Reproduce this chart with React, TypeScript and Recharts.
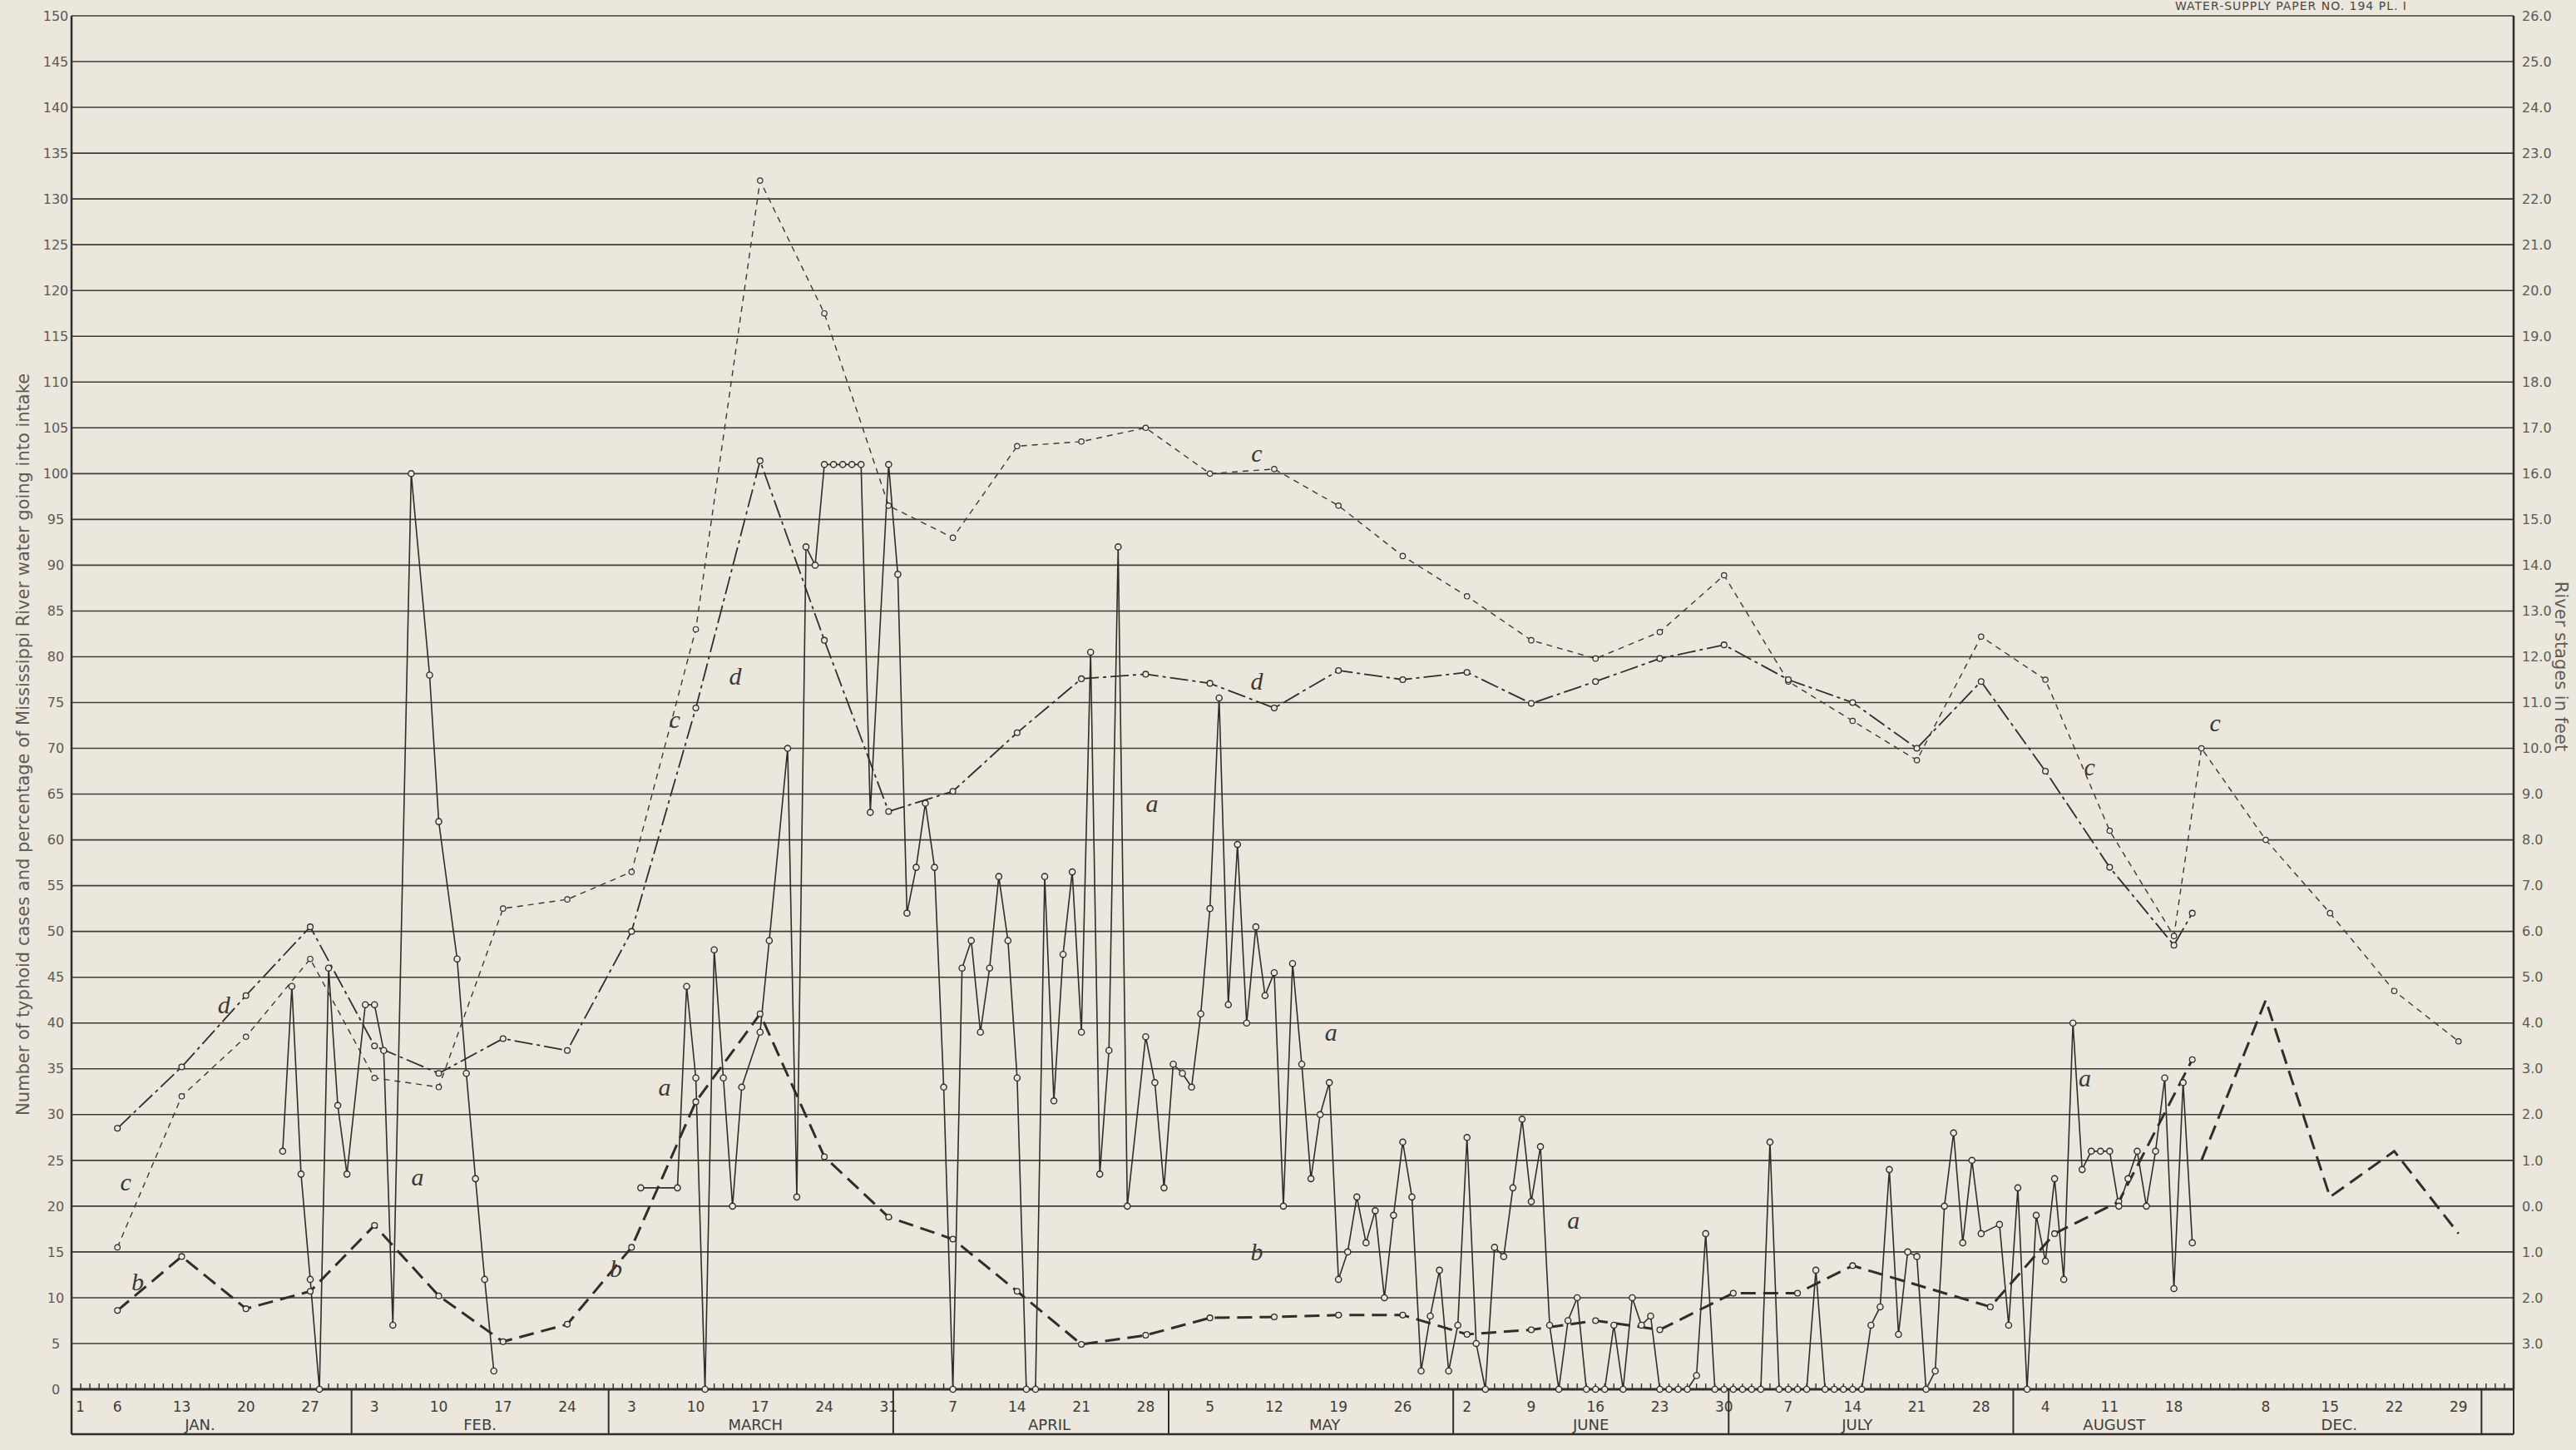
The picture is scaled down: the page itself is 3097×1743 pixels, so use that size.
import React from 'react';
import { ComposedChart, Line, XAxis, YAxis, CartesianGrid, Scatter, ReferenceDot } from 'recharts';

// day index: Jan 1 = 1 ... Aug 20 = 232, December is drawn right after August (Dec d = 232 + d)
const dayTickPos = [1, 6, 13, 20, 27, 34, 41, 48, 55, 62, 69, 76, 83, 90, 97, 104, 111, 118, 125, 132, 139, 146, 153, 160, 167, 174, 181, 188, 195, 202, 209, 216, 223, 230, 240, 247, 254, 261];
const dayTickLabels = ['1', '6', '13', '20', '27', '3', '10', '17', '24', '3', '10', '17', '24', '31', '7', '14', '21', '28', '5', '12', '19', '26', '2', '9', '16', '23', '30', '7', '14', '21', '28', '4', '11', '18', '8', '15', '22', '29'];
const monthNames = ['JAN.', 'FEB.', 'MARCH', 'APRIL', 'MAY', 'JUNE', 'JULY', 'AUGUST', 'DEC.'];
const monthCenters = [15, 45.5, 75.5, 107.5, 137.5, 166.5, 195.5, 223.5, 248];
const monthBreaks = [31.5, 59.5, 90.5, 120.5, 151.5, 181.5, 212.5, 263.5, 267];
const gridDays = [6, 13, 20, 27, 34, 41, 48, 55, 62, 69, 76, 83, 90, 97, 104, 111, 118, 125, 132, 139, 146, 153, 160, 167, 174, 181, 188, 195, 202, 209, 216, 223, 230, 233, 240, 247, 254, 261];
const leftTicks = [0, 5, 10, 15, 20, 25, 30, 35, 40, 45, 50, 55, 60, 65, 70, 75, 80, 85, 90, 95, 100, 105, 110, 115, 120, 125, 130, 135, 140, 145, 150];
const rightTicks = [5, 10, 15, 20, 25, 30, 35, 40, 45, 50, 55, 60, 65, 70, 75, 80, 85, 90, 95, 100, 105, 110, 115, 120, 125, 130, 135, 140, 145, 150];
const dailyMarks = Array.from({ length: 266 }, (_, i) => ({ day: i + 1, v: 0 }));

// a: daily typhoid cases
const aEarlyDays = [24, 25, 26, 27, 28, 29, 30, 31, 33, 34, 35, 36, 38, 40, 41, 43, 44, 45, 46, 47];
const aEarlyValues = [26, 44, 23.5, 12, 0, 46, 31, 23.5, 42, 42, 37, 7, 100, 78, 62, 47, 34.5, 23, 12, 2];
const aDays = [63, 67, 68, 69, 70, 71, 72, 73, 74, 76, 77, 79, 80, 81, 82, 83, 84, 85, 86, 87, 88, 90, 91, 92, 93, 94, 95, 96, 97, 98, 99, 100, 101, 102, 103, 104, 105, 106, 107, 108, 109, 110, 111, 112, 113, 114, 115, 116, 118, 119, 120, 121, 122, 123, 124, 125, 126, 127, 128, 129, 130, 131, 132, 133, 134, 135, 136, 137, 138, 139, 140, 141, 142, 143, 144, 145, 146, 147, 148, 149, 150, 151, 152, 153, 154, 155, 156, 157, 158, 159, 160, 161, 162, 163, 164, 165, 166, 167, 168, 169, 170, 171, 172, 173, 174, 175, 176, 177, 178, 179, 180, 181, 182, 183, 184, 185, 186, 187, 188, 189, 190, 191, 192, 193, 194, 195, 196, 197, 198, 199, 200, 201, 202, 203, 204, 205, 206, 207, 208, 209, 211, 212, 213, 214, 215, 216, 217, 218, 219, 220, 221, 222, 223, 224, 225, 226, 227, 228, 229, 230, 231, 232];
const aValues = [22, 22, 44, 34, 0, 48, 34, 20, 33, 39, 49, 70, 21, 92, 90, 101, 101, 101, 101, 101, 63, 101, 89, 52, 57, 64, 57, 33, 0, 46, 49, 39, 46, 56, 49, 34, 0, 0, 56, 31.5, 47.5, 56.5, 39, 80.5, 23.5, 37, 92, 20, 38.5, 33.5, 22, 35.5, 34.5, 33, 41, 52.5, 75.5, 42, 59.5, 40, 50.5, 43, 45.5, 20, 46.5, 35.5, 23, 30, 33.5, 12, 15, 21, 16, 19.5, 10, 19, 27, 21, 2, 8, 13, 2, 7, 27.5, 5, 0, 15.5, 14.5, 22, 29.5, 20.5, 26.5, 7, 0, 7.5, 10, 0, 0, 0, 7, 0, 10, 7, 8, 0, 0, 0, 0, 1.5, 17, 0, 0, 0, 0, 0, 0, 27, 0, 0, 0, 0, 13, 0, 0, 0, 0, 0, 7, 9, 24, 6, 15, 14.5, 0, 2, 20, 28, 16, 25, 17, 18, 7, 22, 0, 19, 14, 23, 12, 40, 24, 26, 26, 26, 20, 23, 26, 20, 26, 34, 11, 33.5, 16];

// b: weekly typhoid cases
const bDays = [6, 13, 20, 27, 34, 41, 48, 55, 62, 69, 76, 83, 90, 97, 104, 111, 118, 125, 132, 139, 146, 153, 160, 167, 174, 182, 189, 195, 210, 217, 224, 232];
const bValues = [8.6, 14.5, 8.8, 10.7, 17.9, 10.2, 5.2, 7.1, 15.5, 31.4, 41, 25.4, 18.8, 16.4, 10.7, 4.9, 5.9, 7.8, 7.9, 8.1, 8.1, 6, 6.5, 7.5, 6.5, 10.5, 10.5, 13.5, 9, 17, 20.5, 36];
const bDecDays = [233, 240, 247, 254, 261];
const bDecValues = [25, 42.5, 21, 26, 17];

// c: percentage of river water going into intake
const cDays = [6, 13, 20, 27, 34, 41, 48, 55, 62, 69, 76, 83, 90, 97, 104, 111, 118, 125, 132, 139, 146, 153, 160, 167, 174, 181, 188, 195, 202, 209, 216, 223, 230, 233, 240, 247, 254, 261];
const cValues = [15.5, 32, 38.5, 47, 34, 33, 52.5, 53.5, 56.5, 83, 132, 117.5, 96.5, 93, 103, 103.5, 105, 100, 100.5, 96.5, 91, 86.6, 81.8, 79.8, 82.7, 88.9, 77.3, 73, 68.7, 82.2, 77.5, 61, 49.5, 70, 60, 52, 43.5, 38];

// d: river stage, read on the right scale (0.0 ft sits at 20 on the left scale, 5 units per foot)
const dDays = [6, 13, 20, 27, 34, 41, 48, 55, 62, 69, 76, 83, 90, 97, 104, 111, 118, 125, 132, 139, 146, 153, 160, 167, 174, 181, 188, 195, 202, 209, 216, 223, 230, 232];
const dValues = [28.5, 35.2, 43, 50.5, 37.5, 34.5, 38.3, 37, 50, 74.4, 101.4, 81.8, 63.1, 65.3, 71.7, 77.6, 78.1, 77.1, 74.4, 78.5, 77.5, 78.3, 74.9, 77.3, 79.8, 81.3, 77.5, 75, 70, 77.3, 67.5, 57, 48.5, 52];

const noteText = ['d', 'c', 'b', 'a', 'a', 'b', 'c', 'd', 'a', 'c', 'd', 'b', 'a', 'a', 'a', 'c', 'c'];
const noteDays = [17.6, 6.9, 8.2, 38.7, 65.6, 60.3, 66.7, 73.3, 118.7, 130.1, 130.1, 130.1, 138.2, 164.6, 220.3, 220.8, 234.5];
const noteValues = [42, 22.7, 11.8, 23.2, 33, 13.2, 73.2, 77.9, 64, 102.3, 77.4, 15, 39, 18.5, 34, 68, 72.8];

const PAPER = '#ebe7dc';
const INK = '#2f2e2b';
const GRID = '#3d3c38';
const FONT = 'DejaVu Sans, sans-serif';

const toRows = (days: number[], vals: number[]) => days.map((d, i) => ({ day: d, v: vals[i] }));
const axisTicks = [...dayTickPos, ...monthCenters, ...monthBreaks];

function BandTick(props: any) {
  const { x, y, payload } = props;
  const v = payload.value;
  const di = dayTickPos.indexOf(v);
  if (di >= 0) {
    return (
      <g>
        {v === 1 && <line x1={x} x2={x} y1={y} y2={y + 54} stroke={INK} strokeWidth={2.5} />}
        <text x={x + (v === 1 ? 5 : 0)} y={y + 21} textAnchor={v === 1 ? 'start' : 'middle'} dominantBaseline="central"
          fontFamily={FONT} fontSize={17} fill="#3e3d3a">{dayTickLabels[di]}</text>
      </g>
    );
  }
  const mi = monthCenters.indexOf(v);
  if (mi >= 0) {
    return (
      <text x={x} y={y + 42} textAnchor="middle" dominantBaseline="central" fontFamily={FONT} fontSize={18} fill="#3e3d3a">
        {monthNames[mi]}
      </text>
    );
  }
  return <line x1={x} x2={x} y1={y} y2={y + 54} stroke={INK} strokeWidth={2} />;
}

// right scale: feet, zero at 20 on the left scale, below zero shown without sign
const rightFmt = (v: number) => (Math.abs(v - 20) / 5).toFixed(1);

const dot = (r: number, w: number) => ({ r, fill: PAPER, stroke: INK, strokeWidth: w, strokeDasharray: 'none' });

export default function App() {
  return (
    <div style={{ position: 'absolute', left: 0, top: 0, width: 3097, height: 1743, background: PAPER, overflow: 'hidden' }}>
      <div style={{ position: 'absolute', left: 2615, top: -1, fontFamily: FONT, fontSize: 14, color: '#4a4843', letterSpacing: 1 }}>
        WATER-SUPPLY PAPER NO. 194 PL. I
      </div>
      <div style={{ position: 'absolute', left: 28, top: 895, transform: 'translate(-50%, -50%) rotate(-90deg)', whiteSpace: 'nowrap', fontFamily: FONT, fontSize: 21, color: '#5e5c57' }}>
        Number of typhoid cases and percentage of Mississippi River water going into intake
      </div>
      <div style={{ position: 'absolute', left: 3079, top: 801, transform: 'translate(-50%, -50%) rotate(90deg)', whiteSpace: 'nowrap', fontFamily: FONT, fontSize: 21, color: '#5e5c57' }}>
        River stages in feet
      </div>
      <ComposedChart width={3097} height={1743} margin={{ top: 19, right: 0, bottom: 18, left: 0 }}>
        <CartesianGrid xAxisId="xc" yAxisId="L" stroke={GRID} strokeWidth={1.6} />
        <XAxis xAxisId="xa" type="number" dataKey="day" domain={[1, 267]} ticks={axisTicks} interval={0}
          tick={<BandTick />} tickLine={false} tickSize={0} tickMargin={0} height={54}
          axisLine={{ stroke: INK, strokeWidth: 3 }} />
        <XAxis xAxisId="xb" type="number" domain={[1, 267]} ticks={[1]} tick={false} tickLine={false} height={1}
          axisLine={{ stroke: INK, strokeWidth: 2.5 }} />
        <XAxis xAxisId="xc" orientation="top" type="number" domain={[1, 267]} ticks={gridDays} hide />
        <YAxis yAxisId="L" type="number" domain={[0, 150]} ticks={leftTicks} interval={0} width={86}
          tickLine={false} tickSize={0} tickMargin={19} axisLine={{ stroke: INK, strokeWidth: 2.5 }}
          tick={{ fontFamily: FONT, fontSize: 16, fill: '#5b5a55', textAnchor: 'middle' }} />
        <YAxis yAxisId="R" orientation="right" type="number" domain={[0, 150]} ticks={rightTicks} interval={0} width={75}
          tickLine={false} tickSize={0} tickMargin={10} axisLine={{ stroke: INK, strokeWidth: 2.5 }}
          tickFormatter={rightFmt} tick={{ fontFamily: FONT, fontSize: 16, fill: '#5b5a55' }} />

        <Scatter xAxisId="xa" yAxisId="L" data={dailyMarks} dataKey="v" isAnimationActive={false}
          shape={(p: any) => <line x1={p.cx} x2={p.cx} y1={p.cy} y2={p.cy - 7} stroke={INK} strokeWidth={1.4} />} />

        <Line xAxisId="xa" yAxisId="L" data={toRows(cDays, cValues)} dataKey="v" type="linear" stroke="#3a3935"
          strokeWidth={1.4} strokeDasharray="7 6" dot={dot(3.2, 1.2)} isAnimationActive={false} />
        <Line xAxisId="xa" yAxisId="R" data={toRows(dDays, dValues)} dataKey="v" type="linear" stroke={INK}
          strokeWidth={1.8} strokeDasharray="22 5 4 5" dot={dot(3.4, 1.3)} isAnimationActive={false} />
        <Line xAxisId="xa" yAxisId="L" data={toRows(bDays, bValues)} dataKey="v" type="linear" stroke={INK}
          strokeWidth={3} strokeDasharray="18 9" dot={dot(3.4, 1.3)} isAnimationActive={false} />
        <Line xAxisId="xa" yAxisId="L" data={toRows(bDecDays, bDecValues)} dataKey="v" type="linear" stroke={INK}
          strokeWidth={3} strokeDasharray="18 9" dot={false} isAnimationActive={false} />
        <Line xAxisId="xa" yAxisId="L" data={toRows(aEarlyDays, aEarlyValues)} dataKey="v" type="linear" stroke={INK}
          strokeWidth={1.6} dot={dot(3.6, 1.4)} isAnimationActive={false} />
        <Line xAxisId="xa" yAxisId="L" data={toRows(aDays, aValues)} dataKey="v" type="linear" stroke={INK}
          strokeWidth={1.6} dot={dot(3.6, 1.4)} isAnimationActive={false} />

        {noteText.map((t, i) => (
          <ReferenceDot key={i} xAxisId="xa" yAxisId="L" x={noteDays[i]} y={noteValues[i]} r={0}
            shape={(p: any) => (
              <text x={p.cx} y={p.cy} textAnchor="middle" dominantBaseline="central" fontFamily="Liberation Serif, serif"
                fontStyle="italic" fontSize={30} fill="#3a3935">{t}</text>
            )} />
        ))}
      </ComposedChart>
    </div>
  );
}
